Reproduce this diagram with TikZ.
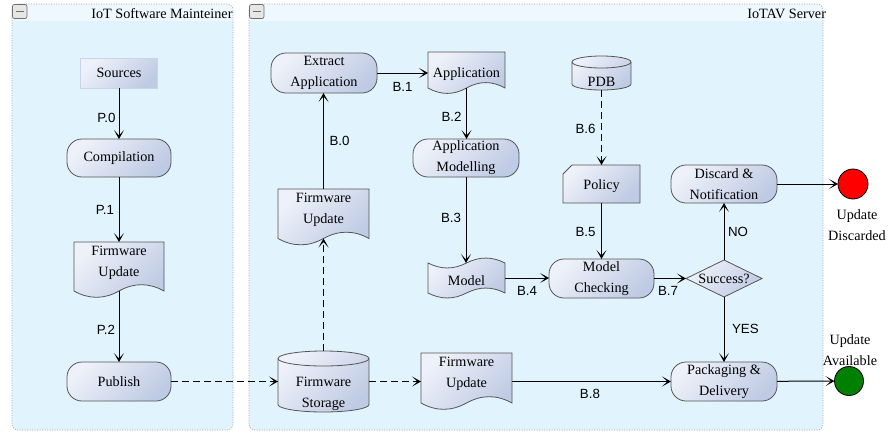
\documentclass[tikz,border=0pt]{standalone}
\usepackage{fontspec}
\setmainfont{Liberation Serif}
\newfontfamily\lblfont{Liberation Sans}
\usetikzlibrary{arrows.meta,calc}
\pgfdeclarelayer{lanes}
\pgfdeclarelayer{shapes}
\pgfsetlayers{lanes,shapes,main}
\definecolor{lanebg}{HTML}{E1F3FD}
\definecolor{lanehead}{HTML}{EEF8FE}
\definecolor{laneline}{HTML}{9AA6AE}
\definecolor{nodelight}{HTML}{EEF1F9}
\definecolor{nodedark}{HTML}{BFCBE4}
\definecolor{nodeline}{HTML}{555555}
\definecolor{srcline}{HTML}{C9D3EA}
\definecolor{iconfill}{HTML}{E6E6E6}
\definecolor{iconline}{HTML}{6E6E6E}
\definecolor{okgreen}{HTML}{008000}
% document shape: node box from top to wave centre line
\newcommand\docwave[2]{%
 \path[shadefill] (#1.north west) -- (#1.north east) -- (#1.south east)
  .. controls ($(#1.south east)!1/3!(#1.south)+(0,-0.6*#2)$) and ($(#1.south east)!2/3!(#1.south)+(0,-0.6*#2)$) .. (#1.south)
  .. controls ($(#1.south)!1/3!(#1.south west)+(0,0.6*#2)$) and ($(#1.south)!2/3!(#1.south west)+(0,0.6*#2)$) .. (#1.south west) -- cycle;}
\newcommand\tapewave[2]{%
 \path[shadefill] (#1.north west)
  .. controls ($(#1.north west)!1/3!(#1.north)+(0,0.6*#2)$) and ($(#1.north west)!2/3!(#1.north)+(0,0.6*#2)$) .. (#1.north)
  .. controls ($(#1.north)!1/3!(#1.north east)+(0,-0.6*#2)$) and ($(#1.north)!2/3!(#1.north east)+(0,-0.6*#2)$) .. (#1.north east)
  -- (#1.south east)
  .. controls ($(#1.south east)!1/3!(#1.south)+(0,-0.6*#2)$) and ($(#1.south east)!2/3!(#1.south)+(0,-0.6*#2)$) .. (#1.south)
  .. controls ($(#1.south)!1/3!(#1.south west)+(0,0.6*#2)$) and ($(#1.south)!2/3!(#1.south west)+(0,0.6*#2)$) .. (#1.south west) -- cycle;}
\newcommand\cylshape[3]{%
 \path[shadefill] ($(#1.north west)+(0,#3)$) -- ($(#1.south west)+(0,-#3)$)
   arc[start angle=180,end angle=360,x radius=#2pt,y radius=#3pt]
   -- ($(#1.north east)+(0,#3)$)
   arc[start angle=0,end angle=180,x radius=#2pt,y radius=#3pt] -- cycle;
 \draw[draw=nodeline, line width=0.8pt] ($(#1.north west)+(0,#3)$) arc[start angle=180,end angle=360,x radius=#2pt,y radius=#3pt];}
\newcommand\cardshape[2]{%
 \path[shadefill] ($(#1.north west)+(#2,0)$) -- (#1.north east) -- (#1.south east) -- (#1.south west) -- ($(#1.north west)+(0,#2)$) -- cycle;}
\newcommand\diamondpath[1]{%
 \path[shadefill] (#1.north) -- (#1.east) -- (#1.south) -- (#1.west) -- cycle;}
\begin{document}
\begin{tikzpicture}[x=1pt,y=-1pt,
  every node/.style={outer sep=0pt},
  txt/.style={font=\rmfamily\fontsize{14.2}{21}\selectfont, align=center, inner sep=0pt},
  lbl/.style={font=\lblfont\fontsize{13.3}{16}\selectfont, inner sep=0pt},
  shadefill/.style={top color=nodelight, bottom color=nodedark, shading angle=45, draw=nodeline, line width=0.8pt},
  stadium/.style={txt, shadefill, rounded corners=15pt, minimum width=104pt, minimum height=38pt},
  holder/.style={inner sep=0pt},
  flow/.style={draw=black, line width=1pt, -{Stealth[length=9pt,width=10pt,inset=5.5pt]}},
  dashflow/.style={flow, dash pattern=on 7pt off 4pt},
  laneframe/.style={draw=laneline, line width=0.6pt, dash pattern=on 1pt off 1.5pt},
  ]
\useasboundingbox (0,0) rectangle (888,434);

% ---------- lanes ----------
\begin{pgfonlayer}{lanes}
 \fill[lanebg, rounded corners=6pt] (12,4) rectangle (233,430);
 \fill[lanehead, rounded corners=6pt] (12,21) -- (12,4) -- (233,4) [sharp corners] -- (233,21) -- cycle;
 \draw[laneframe, rounded corners=6pt] (12,4) rectangle (233,430);
 \draw[fill=iconfill, draw=iconline, line width=0.7pt, rounded corners=2pt] (12.5,4.5) rectangle (27,18.5);
 \draw[iconline, line width=1.6pt] (16,11.5) -- (23.5,11.5);

 \fill[lanebg, rounded corners=6pt] (249,4) rectangle (823,430);
 \fill[lanehead, rounded corners=6pt] (249,21) -- (249,4) -- (823,4) [sharp corners] -- (823,21) -- cycle;
 \draw[laneframe, rounded corners=6pt] (249,4) rectangle (823,430);
 \draw[fill=iconfill, draw=iconline, line width=0.7pt, rounded corners=2pt] (249.5,4.5) rectangle (264,18.5);
 \draw[iconline, line width=1.6pt] (253,11.5) -- (260.5,11.5);
\end{pgfonlayer}
\node[txt, anchor=east] (lane1t) at (232.5,14) {IoT Software Mainteiner};
\node[txt, anchor=east] (lane2t) at (826,14) {IoTAV Server};

% ---------- left lane nodes ----------
\node[txt, minimum width=77pt, minimum height=30pt, top color=nodelight, bottom color=nodedark, shading angle=45, draw=srcline, line width=0.5pt] (src) at (119,73) {Sources};
\node[stadium] (comp) at (119,158) {Compilation};
\node[holder, minimum width=90pt, minimum height=49pt] (fu1) at (119,266.5) {};
\node[txt] (fu1t) at (119,262.5) {Firmware\\Update};
\node[stadium, minimum height=39pt] (pub) at (119,381.5) {Publish};

% ---------- right lane nodes ----------
\node[stadium, minimum width=106pt, minimum height=40pt] (ext) at (324,73) {Extract\\Application};
\node[holder, minimum width=77pt, minimum height=36pt] (app) at (466.5,70) {};
\node[txt] (appt) at (466.5,74) {Application};
\node[stadium, minimum width=106pt] (appm) at (466,158) {Application\\Modelling};
\node[holder, minimum width=91pt, minimum height=49.5pt] (fu2) at (323.5,213.75) {};
\node[txt] (fu2t) at (323.5,210) {Firmware\\Update};
\node[holder, minimum width=77pt, minimum height=30pt] (mdl) at (466.5,278) {};
\node[txt] (mdlt) at (466.5,281) {Model};
\node[holder, minimum width=91pt, minimum height=61pt] (fs) at (323.5,381.5) {};
\node[txt] (fst) at (323.5,393.5) {Firmware\\Storage};
\node[holder, minimum width=91pt, minimum height=50pt] (fu3) at (466.5,378) {};
\node[txt] (fu3t) at (466.5,373.5) {Firmware\\Update};
\node[holder, minimum width=59pt, minimum height=34pt] (pdb) at (601.5,73) {};
\node[txt] (pdbt) at (601.5,82) {PDB};
\node[holder, minimum width=77pt, minimum height=38pt] (pol) at (601.5,184) {};
\node[txt] (polt) at (601.5,186.5) {Policy};
\node[stadium, minimum width=106pt] (disc) at (724,184) {Discard \&\\Notification};
\node[stadium, minimum width=105pt, minimum height=39pt] (mc) at (601.5,278.5) {Model\\Checking};
\node[txt, minimum width=76pt, minimum height=37pt] (suc) at (724,278.5) {Success?};
\node[stadium, minimum width=106pt, minimum height=39pt] (pack) at (724,381.5) {Packaging \&\\Delivery};
\node[circle, draw=black, fill=red, minimum size=30pt, inner sep=0pt, line width=0.8pt] (rd) at (853,184) {};
\node[circle, draw=black, fill=okgreen, minimum size=29pt, inner sep=0pt, line width=0.8pt] (gr) at (849,381) {};
\node[txt] (rdt) at (857,225) {Update\\Discarded};
\node[txt] (grt) at (850,350.5) {Update\\Available};

% ---------- custom shapes ----------
\begin{pgfonlayer}{shapes}
 \docwave{fu1}{14}
 \docwave{app}{12}
 \docwave{fu2}{14}
 \docwave{fu3}{14}
 \tapewave{mdl}{11}
 \cylshape{fs}{45.5}{7.5}
 \cylshape{pdb}{29.5}{6}
 \cardshape{pol}{9}
 \diamondpath{suc}
\end{pgfonlayer}

% ---------- connectors ----------
\draw[flow] (src) -- (comp) node[lbl, pos=0.59, left=3.5pt] (lP0) {P.0};
\draw[flow] (comp) -- (fu1) node[lbl, pos=0.51, left=5pt] (lP1) {P.1};
\draw[flow] (fu1) -- (pub) node[lbl, pos=0.55, left=4pt] (lP2) {P.2};
\draw[dashflow] (pub) -- (fs);
\draw[dashflow] (fs.north) -- (fs.north |- fu2.south);
\draw[flow] (fu2.north) -- (fu2.north |- ext.south) node[lbl, pos=0.5, right=6pt] (lB0) {B.0};
\draw[flow] (ext.east) -- (ext.east -| app.west) node[lbl, midway, below=9pt] (lB1) {B.1};
\draw[flow] (app.south) -- (app.south |- appm.north) node[lbl, pos=0.57, left=5pt] (lB2) {B.2};
\draw[flow] (appm.south) -- (appm.south |- mdl.north) node[lbl, pos=0.48, left=5pt] (lB3) {B.3};
\draw[flow] (mdl.east) -- (mdl.east -| mc.west) node[lbl, midway, below=8pt] (lB4) {B.4};
\draw[dashflow] (pdb) -- (pol) node[lbl, pos=0.52, left=6pt] (lB6) {B.6};
\draw[flow] (pol) -- (mc) node[lbl, pos=0.52, left=6pt] (lB5) {B.5};
\draw[flow] (mc) -- (suc) node[lbl, pos=0.44, below=8pt] (lB7) {B.7};
\draw[flow] (suc) -- (disc) node[lbl, pos=0.49, right=4pt] (lNO) {NO};
\draw[flow] (suc) -- (pack) node[lbl, pos=0.49, right=8pt] (lYES) {YES};
\draw[dashflow] (fs.east) -- (fs.east -| fu3.west);
\draw[flow] (fu3.east |- pack.west) -- (pack.west) node[lbl, pos=0.49, below=8pt] (lB8) {B.8};
\draw[flow] (disc) -- (rd);
\draw[flow] (pack) -- (gr);
\end{tikzpicture}
\end{document}
